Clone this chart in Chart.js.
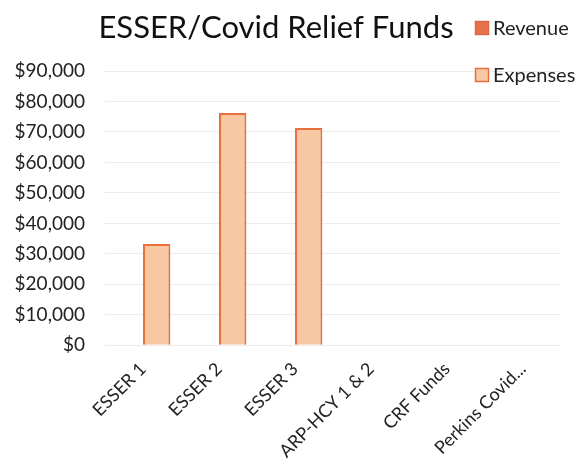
<!DOCTYPE html>
<html>
<head>
<meta charset="utf-8">
<script src="https://cdn.jsdelivr.net/npm/chart.js@4.4.0/dist/chart.umd.min.js"></script>
<style>
  html, body { margin: 0; padding: 0; background: #fff; }
  #wrap { width: 577px; height: 467px; }
</style>
</head>
<body>
<div id="wrap"><canvas id="fundsChart"></canvas></div>
<script>
// funds by source
const categories = ['ESSER 1', 'ESSER 2', 'ESSER 3', 'ARP-HCY 1 & 2', 'CRF Funds', 'Perkins Covid...'];
const revenue = [0, 0, 0, 0, 0, 0];
const expenses = [33200, 76200, 71300, 0, 0, 0];
const yTicks = [0, 10000, 20000, 30000, 40000, 50000, 60000, 70000, 80000, 90000];
const chartTitle = 'ESSER/Covid Relief Funds';

const fontFam = 'Lato, "Open Sans", sans-serif';

// title plus a stacked legend in the top right corner
const header = {
  id: 'header',
  afterDraw(chart) {
    const ctx = chart.ctx;
    ctx.save();
    ctx.fillStyle = '#111';
    ctx.font = '31px ' + fontFam;
    ctx.textAlign = 'center';
    ctx.textBaseline = 'middle';
    ctx.fillText(chartTitle, 276, 28);

    const rows = [28, 75];
    ctx.font = '20px ' + fontFam;
    ctx.textAlign = 'left';
    chart.data.datasets.forEach((ds, i) => {
      const y = rows[i];
      ctx.fillStyle = ds.backgroundColor;
      ctx.fillRect(475, y - 7, 14, 14);
      ctx.strokeStyle = ds.borderColor;
      ctx.lineWidth = 1.5;
      ctx.strokeRect(475.5, y - 6.5, 13, 13);
      ctx.fillStyle = '#222';
      ctx.fillText(ds.label, 493, y + 1);
    });
    ctx.restore();
  }
};

new Chart(document.getElementById('fundsChart'), {
  type: 'bar',
  data: {
    labels: categories,
    datasets: [
      {
        label: 'Revenue',
        data: revenue,
        backgroundColor: '#E5714B',
        borderColor: '#E06A40',
        borderWidth: 1.5
      },
      {
        label: 'Expenses',
        data: expenses,
        backgroundColor: '#F8C8A3',
        borderColor: '#E8703F',
        borderWidth: 2
      }
    ]
  },
  options: {
    responsive: true,
    maintainAspectRatio: false,
    animation: false,
    categoryPercentage: 0.72,
    barPercentage: 1,
    layout: { padding: { left: 0, right: 16, top: 71, bottom: 0 } },
    scales: {
      y: {
        min: 0,
        max: 90000,
        afterBuildTicks(axis) {
          axis.ticks = yTicks.map(v => ({ value: v }));
        },
        afterFit(axis) {
          axis.width = 105;
        },
        ticks: {
          color: '#222',
          font: { family: fontFam, size: 19 },
          padding: 20,
          callback: v => '$' + v.toLocaleString('en-US')
        },
        grid: { color: '#ececec', drawTicks: false },
        border: { display: false }
      },
      x: {
        ticks: {
          color: '#222',
          font: { family: fontFam, size: 18 },
          minRotation: 45,
          maxRotation: 45,
          padding: 5
        },
        grid: { display: false },
        border: { display: false }
      }
    },
    plugins: {
      legend: { display: false },
      tooltip: { enabled: false },
      title: { display: false }
    }
  },
  plugins: [header]
});
</script>
</body>
</html>
